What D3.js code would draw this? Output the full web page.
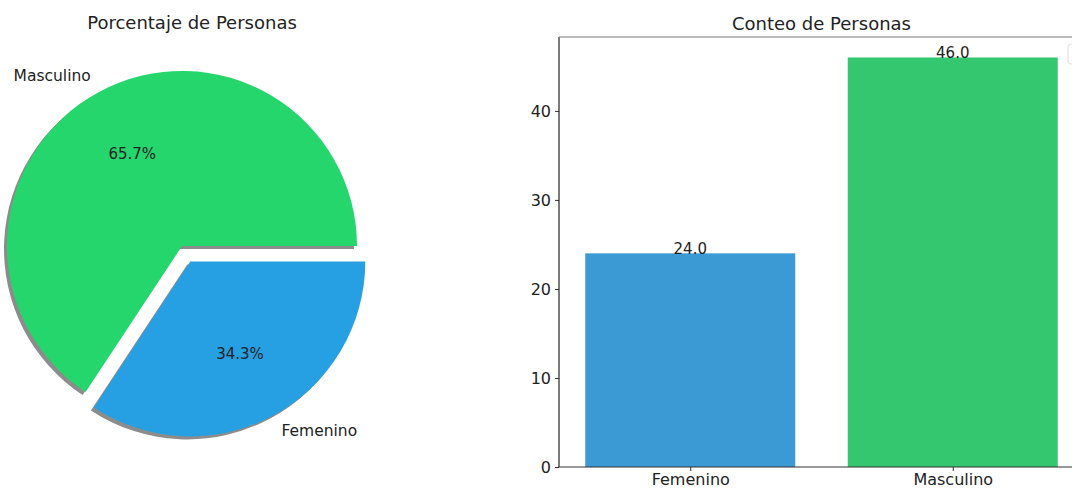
<!DOCTYPE html>
<html>
<head>
<meta charset="utf-8">
<script src="https://cdn.jsdelivr.net/npm/d3@7/dist/d3.min.js"></script>
<style>
  html, body { margin: 0; padding: 0; background: #fff; }
  svg { display: block; font-family: "DejaVu Sans", sans-serif; }
</style>
</head>
<body>
<svg id="chart" width="1072" height="493"></svg>
<script>
// ---- data ----
const pieLabels = ["Masculino", "Femenino"];
const pieValues = [46, 24];
const pieColors = ["#24d66c", "#27a0e3"];
const pieExplode = [0, 0.1];

const barCategories = ["Femenino", "Masculino"];
const barValues = [24, 46];
const barColors = ["#3b99d4", "#35c76f"];
const yTicks = [0, 10, 20, 30, 40];

const pieTitle = "Porcentaje de Personas";
const barTitle = "Conteo de Personas";

const svg = d3.select("#chart");

// ---- pie ----
const cx = 182, cy = 246, r = 175;
svg.append("text").attr("x", 192).attr("y", 29).attr("text-anchor", "middle")
  .attr("font-size", 18).attr("fill", "#222").text(pieTitle);

const total = d3.sum(pieValues);
const pie = d3.pie().sort(null).startAngle(Math.PI / 2).endAngle(Math.PI / 2 - 2 * Math.PI);
const arcs = pie(pieValues);
const arcGen = d3.arc().innerRadius(0).outerRadius(r);

const pieG = svg.append("g");
arcs.forEach((a, i) => {
  const mid = (a.startAngle + a.endAngle) / 2;
  const off = pieExplode[i] * r;
  a.ox = cx + off * Math.sin(mid);
  a.oy = cy - off * Math.cos(mid);
  a.mid = mid;
});
// shadows
arcs.forEach((a) => {
  pieG.append("path").attr("d", arcGen(a))
    .attr("transform", `translate(${a.ox - 3},${a.oy + 3})`)
    .attr("fill", "#8c8c8c");
});
arcs.forEach((a, i) => {
  pieG.append("path").attr("d", arcGen(a))
    .attr("transform", `translate(${a.ox},${a.oy})`)
    .attr("fill", pieColors[i]);
});
arcs.forEach((a, i) => {
  const lx = a.ox + 1.1 * r * Math.sin(a.mid);
  const ly = a.oy - 1.1 * r * Math.cos(a.mid);
  svg.append("text").attr("x", lx).attr("y", ly)
    .attr("text-anchor", Math.sin(a.mid) < 0 ? "end" : "start")
    .attr("dominant-baseline", "central")
    .attr("font-size", 15.5).attr("fill", "#222").text(pieLabels[i]);
  const px = a.ox + 0.6 * r * Math.sin(a.mid);
  const py = a.oy - 0.6 * r * Math.cos(a.mid);
  svg.append("text").attr("x", px).attr("y", py)
    .attr("text-anchor", "middle").attr("dominant-baseline", "central")
    .attr("font-size", 15).attr("fill", "#222")
    .text((pieValues[i] / total * 100).toFixed(1) + "%");
});

// ---- bar chart ----
const x = d3.scaleLinear().domain([-0.5, 1.5]).range([559, 1084]);
const y = d3.scaleLinear().domain([0, 48.3]).range([467, 37]);
const bw = 0.8;

svg.append("text").attr("x", (x(-0.5) + x(1.5)) / 2).attr("y", 30).attr("text-anchor", "middle")
  .attr("font-size", 18).attr("fill", "#222").text(barTitle);

const bars = svg.append("g");
barCategories.forEach((c, i) => {
  bars.append("rect")
    .attr("x", x(i - bw / 2)).attr("width", x(i + bw / 2) - x(i - bw / 2))
    .attr("y", y(barValues[i])).attr("height", y(0) - y(barValues[i]))
    .attr("fill", barColors[i]);
  bars.append("text").attr("x", x(i)).attr("y", y(barValues[i]) + 1)
    .attr("text-anchor", "middle").attr("font-size", 15).attr("fill", "#222")
    .text(barValues[i].toFixed(1));
});

// y axis
const yAxis = d3.axisLeft(y).tickValues(yTicks).tickSize(4).tickPadding(4).tickFormat(d3.format("d"));
const yg = svg.append("g").attr("transform", `translate(${x(-0.5)},0)`).call(yAxis);
yg.select(".domain").remove();
yg.selectAll("text").attr("font-size", 16).attr("fill", "#222").attr("font-family", "DejaVu Sans");
yg.selectAll("line").attr("stroke", "#333");

// x axis
const xAxis = d3.axisBottom(x).tickValues(barCategories.map((c, i) => i))
  .tickFormat((d) => barCategories[d]).tickSize(4).tickPadding(3);
const xg = svg.append("g").attr("transform", `translate(0,${y(0)})`).call(xAxis);
xg.select(".domain").remove();
xg.selectAll("text").attr("font-size", 16).attr("fill", "#222").attr("font-family", "DejaVu Sans");
xg.selectAll("line").attr("stroke", "#333");

// spines
svg.append("line").attr("x1", x(-0.5)).attr("x2", x(-0.5)).attr("y1", y(48.3)).attr("y2", y(0))
  .attr("stroke", "#222").attr("stroke-width", 1.2);
svg.append("line").attr("x1", x(-0.5)).attr("x2", x(1.5)).attr("y1", y(0)).attr("y2", y(0))
  .attr("stroke", "#333").attr("stroke-width", 1.2);
svg.append("line").attr("x1", x(-0.5)).attr("x2", x(1.5)).attr("y1", y(48.3)).attr("y2", y(48.3))
  .attr("stroke", "#777").attr("stroke-width", 1);

// empty legend box corner at the cropped right edge
svg.append("rect").attr("x", 1068).attr("y", 44).attr("width", 30).attr("height", 20)
  .attr("rx", 3).attr("fill", "none").attr("stroke", "#ddd");
</script>
</body>
</html>
